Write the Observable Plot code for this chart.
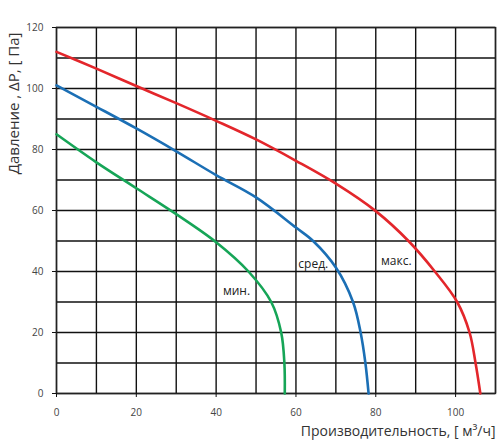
<!DOCTYPE html>
<html>
<head>
<meta charset="utf-8">
<script src="https://cdn.jsdelivr.net/npm/d3@7"></script>
<script src="https://cdn.jsdelivr.net/npm/@observablehq/plot@0.6"></script>
<style>
  html, body { margin: 0; padding: 0; background: #fff; }
  #chart svg { display: block; }
</style>
</head>
<body>
<div id="chart"></div>
<script>
// Data
const maxX = [0, 10, 20, 30, 40, 50, 60, 70, 80, 88.2, 94.8, 100.4, 103.5, 105, 106.2];
const maxY = [112, 106.5, 100.8, 95.2, 89.4, 83.3, 76.3, 68.8, 59.8, 50, 40, 30, 20, 10, 0];

const midX = [0, 10, 20, 30, 40, 50, 60, 64.3, 70, 74.3, 76.2, 77.4, 78.2];
const midY = [101, 94, 86.9, 79.4, 71.6, 64.3, 54.4, 50, 41.3, 30, 20, 10, 0];

const minX = [0, 10, 20, 30, 40, 48.1, 53.8, 56.3, 57.1, 57.2];
const minY = [85, 75.8, 67.3, 58.8, 49.6, 40, 30, 20, 10, 0];

const seriesNames = ["макс.", "сред.", "мин."];
const labelX = [81.3, 60.6, 41.7];
const labelY = [42.2, 41.3, 32.4];

const xTicks = [0, 20, 40, 60, 80, 100];
const yTicks = [0, 20, 40, 60, 80, 100, 120];
const xGrid = d3.range(0, 111, 10);
const yGrid = d3.range(0, 121, 10);

const xTitle = "Производительность, [ м³/ч]";
const yTitle = "Давление , ΔP, [ Па]";

const colors = {"макс.": "#e3262b", "сред.": "#1b6fb5", "мин.": "#16a557"};

const toRows = (name, xs, ys) => xs.map((x, i) => ({series: name, x, y: ys[i]}));
const rows = [
  ...toRows("макс.", maxX, maxY),
  ...toRows("сред.", midX, midY),
  ...toRows("мин.", minX, minY)
];
const labels = seriesNames.map((s, i) => ({series: s, x: labelX[i], y: labelY[i]}));

const font = "'Open Sans', 'Noto Sans', sans-serif";

const chart = Plot.plot({
  width: 501,
  height: 440,
  marginLeft: 56,
  marginRight: 6,
  marginTop: 27,
  marginBottom: 47,
  style: {fontFamily: font, fontSize: "10px", background: "#fff", color: "#333"},
  x: {domain: [0, 110]},
  y: {domain: [0, 120]},
  marks: [
    Plot.ruleX(xGrid, {stroke: "#111", strokeWidth: 1.4}),
    Plot.ruleY(yGrid, {stroke: "#111", strokeWidth: 1.4}),
    Plot.frame({stroke: "#222", strokeWidth: 1.4}),
    Plot.axisX({ticks: xTicks, tickSize: 4, tickPadding: 11, label: null, stroke: "#111", fill: "#444", fontSize: 10}),
    Plot.axisY({ticks: yTicks, tickSize: 4, tickPadding: 9, label: null, stroke: "#111", fill: "#444", fontSize: 10}),
    Plot.line(rows, {x: "x", y: "y", z: "series", stroke: d => colors[d.series], strokeWidth: 2.6, curve: "catmull-rom"}),
    Plot.text(labels, {x: "x", y: "y", text: "series", textAnchor: "start", lineAnchor: "bottom", fontSize: 12, fill: "#222"}),
    Plot.text([xTitle], {frameAnchor: "bottom-right", textAnchor: "end", lineAnchor: "middle", dx: 0, dy: 38, fontSize: 14, fill: "#333"}),
    Plot.text([yTitle], {frameAnchor: "top-left", rotate: -90, textAnchor: "end", lineAnchor: "bottom", dx: -38, dy: 5, fontSize: 15, fill: "#333"})
  ]
});
document.getElementById("chart").appendChild(chart);
</script>
</body>
</html>
